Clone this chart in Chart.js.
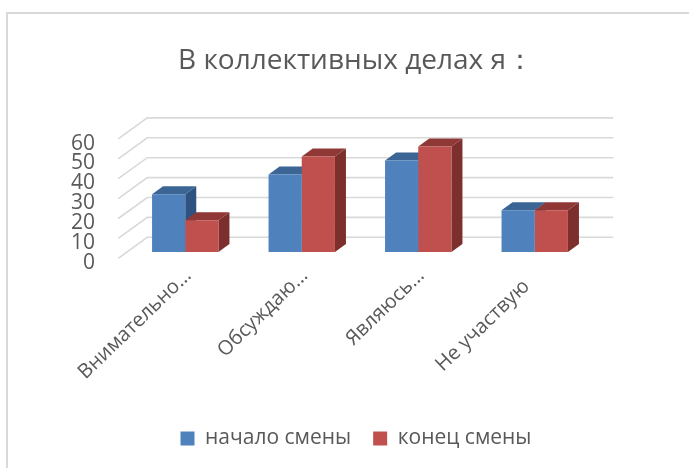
<!DOCTYPE html>
<html>
<head>
<meta charset="utf-8">
<style>
    html, body { margin: 0; padding: 0; background: #fff; overflow: hidden; }
    #wrap { position: relative; width: 689px; height: 468px; }
    #frame { position: absolute; left: 6px; top: 12px; right: 0; bottom: 0; border-left: 2px solid #d9d9d9; border-top: 2px solid #d9d9d9; }
    canvas { position: absolute; left: 0; top: 0; }
</style>
<script src="https://cdn.jsdelivr.net/npm/chart.js@4"></script>
</head>
<body>
<div id="wrap">
    <div id="frame"></div>
    <canvas id="chart" width="689" height="468"></canvas>
</div>
<script>
const titleText = 'В коллективных делах я：';
const categories = ['Внимательно…', 'Обсуждаю…', 'Являюсь…', 'Не участвую'];
const startValues = [29, 39, 46, 21];
const endValues = [16, 48, 53, 21];
const seriesNames = ['начало смены', 'конец смены'];
const yTicks = [0, 10, 20, 30, 40, 50, 60];

const FONT = '"Open Sans", "Noto Sans", sans-serif';
const TEXT = '#595959';
const GRID = '#d9d9d9';
const faceColors = [
    { front: '#4f81bd', top: '#3a6594', side: '#2f5380' },
    { front: '#c0504d', top: '#8f3836', side: '#7c2f2d' }
];

// fake depth: bars and grid are drawn from the scale pixels, shifted by these
const barDepth = { x: 11, y: 8 };
const wall = { frontX: -8.75, frontY: 6.3, backX: 20.25, backY: -14.7 };

const depthPlugin = {
    id: 'depth',
    beforeDatasetsDraw(chart) {
        const { ctx, chartArea, scales } = chart;
        ctx.save();
        ctx.strokeStyle = GRID;
        ctx.lineWidth = 1.6;
        yTicks.forEach((v) => {
            const y = scales.y.getPixelForValue(v);
            ctx.beginPath();
            ctx.moveTo(chartArea.left + wall.frontX, y + wall.frontY);
            ctx.lineTo(chartArea.left + wall.backX, y + wall.backY);
            ctx.lineTo(chartArea.right + wall.backX, y + wall.backY);
            ctx.stroke();
        });

        chart.data.datasets.forEach((ds, i) => {
            const colors = faceColors[i];
            chart.getDatasetMeta(i).data.forEach((bar) => {
                const left = bar.x - bar.width / 2;
                const right = bar.x + bar.width / 2;
                ctx.fillStyle = colors.side;
                ctx.beginPath();
                ctx.moveTo(right, bar.y);
                ctx.lineTo(right + barDepth.x, bar.y - barDepth.y);
                ctx.lineTo(right + barDepth.x, bar.base - barDepth.y);
                ctx.lineTo(right, bar.base);
                ctx.closePath();
                ctx.fill();
                ctx.fillStyle = colors.top;
                ctx.beginPath();
                ctx.moveTo(left, bar.y);
                ctx.lineTo(left + barDepth.x, bar.y - barDepth.y);
                ctx.lineTo(right + barDepth.x, bar.y - barDepth.y);
                ctx.lineTo(right, bar.y);
                ctx.closePath();
                ctx.fill();
            });
        });
        ctx.restore();
    }
};

new Chart(document.getElementById('chart').getContext('2d'), {
    type: 'bar',
    data: {
        labels: categories,
        datasets: [
            { label: seriesNames[0], data: startValues, backgroundColor: faceColors[0].front },
            { label: seriesNames[1], data: endValues, backgroundColor: faceColors[1].front }
        ]
    },
    options: {
        responsive: false,
        animation: false,
        layout: { padding: { left: 23, right: 0, top: 0, bottom: 9 } },
        categoryPercentage: 0.57,
        barPercentage: 1,
        scales: {
            x: {
                grid: { display: false },
                border: { display: false },
                ticks: {
                    color: TEXT,
                    font: { family: FONT, size: 20 },
                    minRotation: 44,
                    maxRotation: 44,
                    autoSkip: false,
                    padding: 4,
                    labelOffset: 3,
                    // the full label sits a bit lower than the cut ones in the original
                    callback(value) {
                        const label = this.getLabelForValue(value);
                        return label.endsWith('…') ? label : label + '\u00a0\u00a0\u00a0';
                    }
                },
                afterFit(scale) { scale.height = 154; }
            },
            y: {
                min: 0,
                max: 60,
                grid: { display: false },
                border: { display: false },
                ticks: {
                    color: TEXT,
                    font: { family: FONT, size: 21 },
                    stepSize: 10,
                    autoSkip: false,
                    padding: 24,
                    labelOffset: 11
                },
                afterFit(scale) { scale.width = 104; }
            },
            // empty axis, only keeps the plot away from the right edge
            spacer: {
                position: 'right',
                grid: { display: false },
                border: { display: false },
                ticks: { display: false },
                afterFit(scale) { scale.width = 96; }
            }
        },
        plugins: {
            title: {
                display: true,
                text: titleText,
                color: TEXT,
                font: { family: FONT, size: 28, weight: 'normal' },
                padding: { top: 44, bottom: 55 }
            },
            legend: {
                position: 'bottom',
                labels: {
                    color: TEXT,
                    font: { family: FONT, size: 21 },
                    boxWidth: 14,
                    boxHeight: 14,
                    padding: 22
                }
            },
            tooltip: { enabled: false }
        }
    },
    plugins: [depthPlugin]
});
</script>
</body>
</html>
